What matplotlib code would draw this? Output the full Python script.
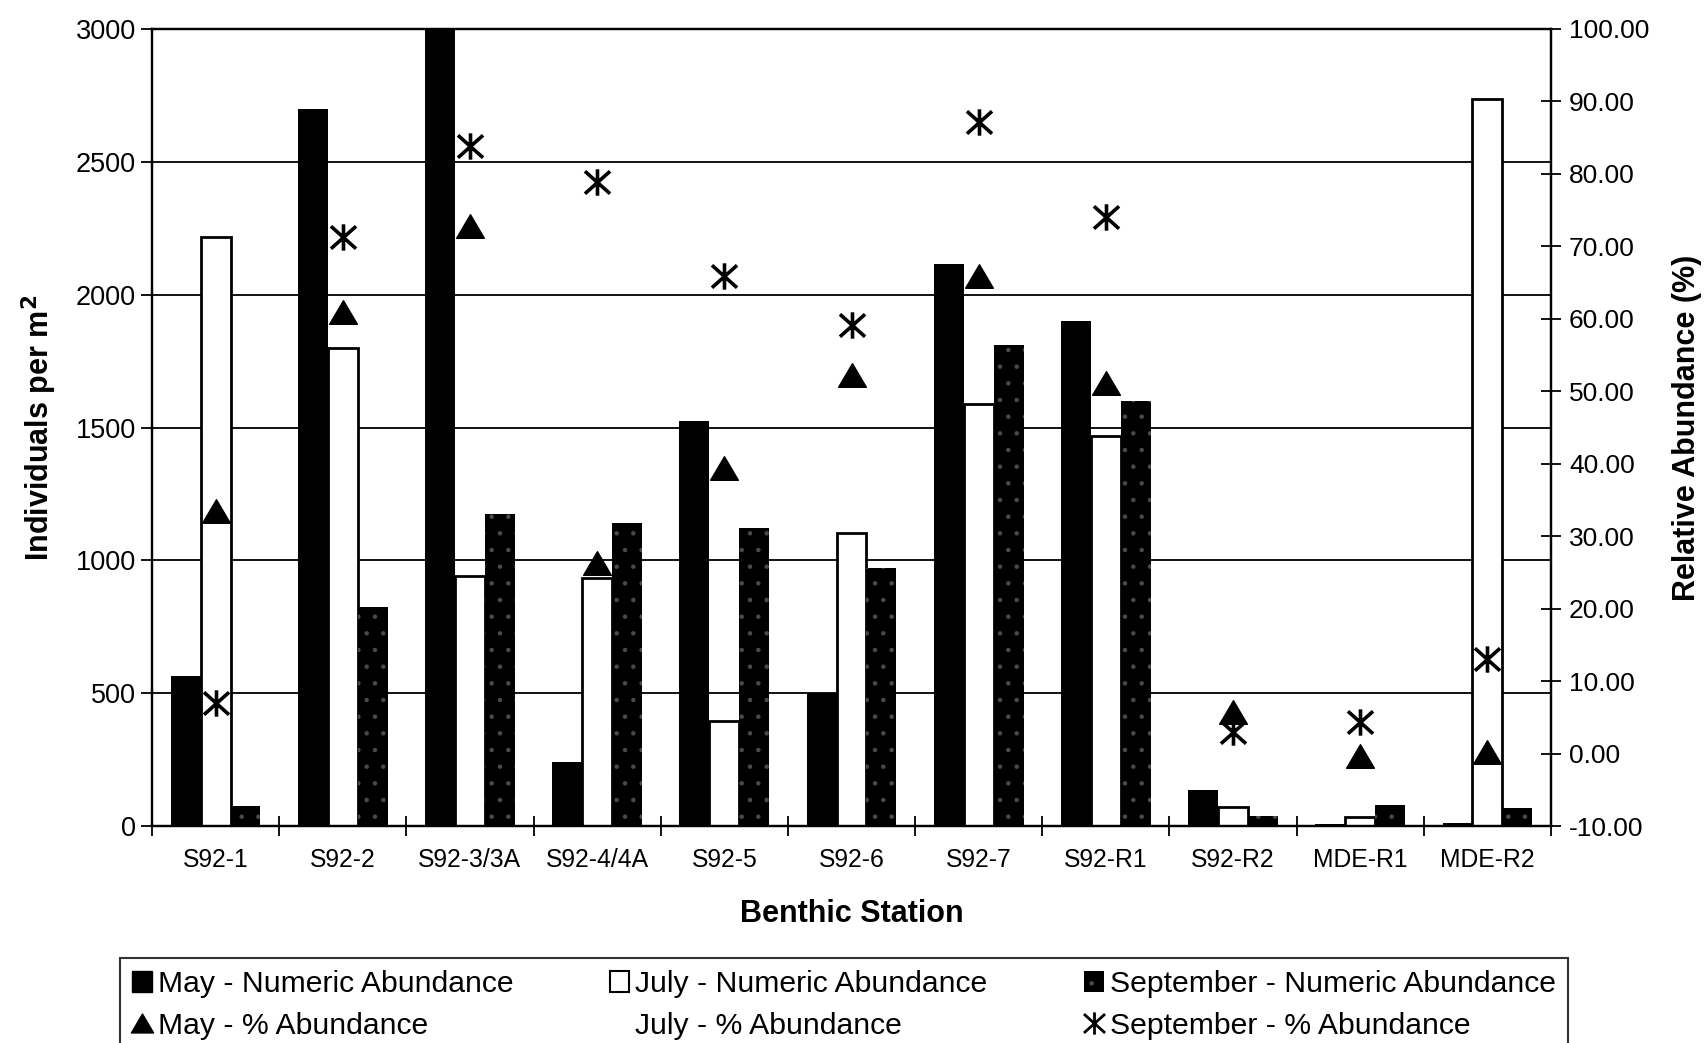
import numpy as np
import matplotlib.pyplot as plt
from matplotlib.path import Path
from matplotlib.patches import Patch
from matplotlib.lines import Line2D

plt.rcParams['font.family'] = ['Liberation Sans', 'DejaVu Sans']
plt.rcParams['hatch.linewidth'] = 0.8

stations = ["S92-1", "S92-2", "S92-3/3A", "S92-4/4A", "S92-5", "S92-6",
            "S92-7", "S92-R1", "S92-R2", "MDE-R1", "MDE-R2"]

# numeric abundance (individuals per m2)
may_num = [565, 2700, 3000, 240, 1525, 502, 2114, 1900, 137, 9, 13]
july_num = [2216, 1800, 940, 933, 396, 1102, 1587, 1468, 73, 32, 2738]
sept_num = [74, 824, 1174, 1142, 1120, 970, 1809, 1601, 39, 80, 67]

# relative abundance (%)
may_pct = [33.5, 61.0, 72.8, 26.3, 39.4, 52.2, 65.9, 51.2, 5.8, -0.4, 0.2]
sept_pct = [7.0, 71.3, 83.8, 78.9, 65.9, 59.2, 87.2, 74.1, 3.0, 4.4, 13.0]

left_ticks = np.arange(0, 3001, 500)
right_ticks = np.arange(-10, 101, 10)

# custom markers
tri = Path([(0, 0.85), (-1, -0.85), (1, -0.85), (0, 0.85)],
           [Path.MOVETO, Path.LINETO, Path.LINETO, Path.CLOSEPOLY])
star = Path([(0, -1), (0, 1), (-0.95, -0.85), (0.95, 0.85), (-0.95, 0.85), (0.95, -0.85)],
            [Path.MOVETO, Path.LINETO, Path.MOVETO, Path.LINETO, Path.MOVETO, Path.LINETO])

fig = plt.figure(figsize=(17.04, 10.43), dpi=100)
ax = fig.add_axes([152 / 1704, 1 - 826 / 1043, (1551 - 152) / 1704, (826 - 29) / 1043])
ax2 = ax.twinx()

x = np.arange(len(stations))
w = 0.235

ax.set_axisbelow(True)
ax.yaxis.grid(True, color='black', lw=1.3)
ax.bar(x - w, may_num, w, color='black', lw=0)
ax.bar(x, july_num, w, color='white', edgecolor='black', lw=2)
ax.bar(x + w, sept_num, w, color='black', edgecolor='#4a4a4a', lw=0, hatch='.')

ax.set_xlim(-0.5, len(stations) - 0.5)
ax.set_ylim(0, 3000)
ax.set_yticks(left_ticks)
ax.tick_params(axis='y', labelsize=19.5, direction='out', length=8, width=1.3)
ax.set_xticks(x)
ax.set_xticklabels(stations)
ax.set_xticks(np.arange(-0.5, len(stations), 1), minor=True)
ax.tick_params(axis='x', which='major', length=0, labelsize=17.8, pad=16)
ax.tick_params(axis='x', which='minor', direction='inout', length=14, width=1.3)

ax2.plot(x, may_pct, ls='none', marker=tri, ms=20, color='black')
ax2.plot(x, sept_pct, ls='none', marker=star, ms=19, mew=2.6, color='black')
ax2.set_ylim(-10, 100)
ax2.set_yticks(right_ticks)
ax2.set_yticklabels([f"{v:.2f}" for v in right_ticks])
ax2.tick_params(axis='y', labelsize=19, direction='inout', length=14, width=1.3, pad=6)

for a in (ax, ax2):
    for s in a.spines.values():
        s.set_linewidth(1.6)

ax.set_xlabel("Benthic Station", fontsize=22, fontweight='bold', labelpad=19)
ax.set_ylabel("Individuals per m$^{\\mathbf{2}}$", fontsize=22, fontweight='bold', labelpad=12)
ax2.set_ylabel("Relative Abundance (%)", fontsize=22, fontweight='bold', labelpad=16)

handles = [
    Patch(facecolor='black', edgecolor='black'),
    Line2D([], [], ls='none', marker=tri, ms=16, color='black'),
    Patch(facecolor='white', edgecolor='black', lw=1.5),
    Line2D([], [], ls='none', color='none'),
    Patch(facecolor='black', edgecolor='#4a4a4a', lw=0, hatch='.'),
    Line2D([], [], ls='none', marker=star, ms=16, mew=2, color='black'),
]
labels = ["May - Numeric Abundance", "May - % Abundance",
          "July - Numeric Abundance", "July - % Abundance",
          "September - Numeric Abundance", "September - % Abundance"]
leg = fig.legend(handles, labels, loc='upper left', bbox_to_anchor=(120 / 1704, 1 - 958 / 1043),
                 ncol=3, fontsize=21.7, frameon=True, fancybox=False, borderaxespad=0,
                 handlelength=0.65, handleheight=0.65, handletextpad=0.2,
                 columnspacing=3.2, labelspacing=0.45, borderpad=0.4)
leg.get_frame().set_edgecolor('black')
leg.get_frame().set_linewidth(1.5)

fig.savefig("out.png", dpi=100)
